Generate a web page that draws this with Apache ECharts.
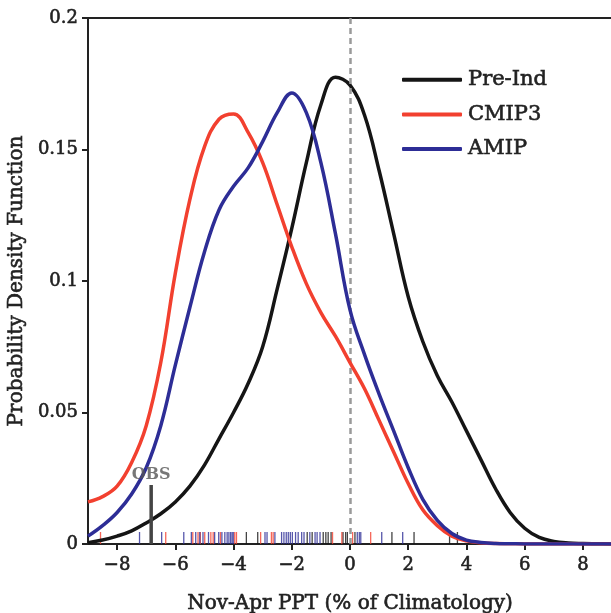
<!DOCTYPE html>
<html>
<head>
<meta charset="utf-8">
<script src="https://cdn.jsdelivr.net/npm/echarts@6/dist/echarts.min.js"></script>
<style>
html,body{margin:0;padding:0;background:#fff;}
#chart{width:611px;height:613px;}
</style>
</head>
<body>
<div id="chart"></div>
<script>
// x positions (% of climatology) shared by the three PDFs
const xValues = [-9,-8.5,-8,-7.5,-7,-6.5,-6,-5.5,-5,-4.5,-4,-3.5,-3,-2.5,-2,-1.5,-1,-0.5,0,0.5,1,1.5,2,2.5,3,3.5,4,4.5,5,5.5,6,6.5,7,7.5,8,8.5,9];
const preInd = [0.0005,0.0015,0.003,0.005,0.008,0.0115,0.016,0.022,0.030,0.040,0.050,0.061,0.075,0.097,0.120,0.145,0.167,0.1775,0.1745,0.163,0.142,0.118,0.094,0.077,0.064,0.054,0.043,0.032,0.021,0.012,0.006,0.0025,0.001,0.0004,0.0002,0.0001,0];
const cmip3 = [0.016,0.018,0.022,0.031,0.045,0.069,0.103,0.131,0.151,0.1615,0.1635,0.1565,0.145,0.129,0.113,0.099,0.088,0.079,0.069,0.059,0.047,0.035,0.023,0.013,0.007,0.003,0.0012,0.0005,0.0002,0.0001,0,0,0,0,0,0,0];
const amip = [0.003,0.007,0.012,0.019,0.029,0.045,0.068,0.090,0.111,0.127,0.136,0.143,0.153,0.164,0.1715,0.164,0.145,0.118,0.089,0.072,0.057,0.043,0.029,0.017,0.009,0.004,0.0015,0.0006,0.0002,0.0001,0,0,0,0,0,0,0];

// rug marks (individual members)
const rugPreInd = [-3.56,-3.17,-1.47,-1.30,-0.92,-0.83,-0.75,-0.65,-0.24,-0.15,-0.09,0.17,1.44,2.20,3.42,3.69];
const rugCMIP3 = [-8.57,-6.33,-5.40,-5.22,-5.14,-4.99,-4.78,-4.70,-4.45,-3.96,-3.90,-3.07,-2.70,-2.64,-0.60,-0.28,0.09,0.71];
const rugAMIP = [-7.23,-6.47,-5.71,-5.45,-5.30,-5.16,-5.05,-4.86,-4.65,-4.51,-4.40,-4.30,-4.22,-4.16,-4.10,-4.05,-4.01,-2.92,-2.85,-2.58,-2.35,-2.27,-2.19,-2.12,-2.05,-1.98,-1.87,-1.78,-1.66,-1.58,-1.38,-1.20,-1.13,-1.03,0.25,0.32,0.37,1.09,1.81];

// observation
const obsX = -6.83;
const obsHeight = 0.0224;

const xTicks = [-8,-6,-4,-2,0,2,4,6,8];
const yTickStep = 0.05;

const FONT = 'DejaVu Serif';
const TXT = '#222';
const heavy = {fontFamily:FONT, color:TXT, textBorderColor:TXT, textBorderWidth:0.6};
const C_BLACK = '#151515', C_RED = '#f2402f', C_BLUE = '#2d2d96';

const pair = arr => xValues.map((x,i)=>[x, arr[i]]);
const rug = arr => arr.map(x=>[x,0]);

const rugSeries = (data, color) => ({
  type:'scatter', data: rug(data), symbol:'rect', symbolSize:[1.3,12], symbolOffset:[0,-6],
  itemStyle:{color:color}, silent:true, z:3
});

const chart = echarts.init(document.getElementById('chart'), null, {renderer:'canvas'});
chart.setOption({
  animation:false,
  backgroundColor:'#fff',
  grid:{left:88, right:-1, top:18, bottom:69, containLabel:false, outerBoundsMode:'none',
        show:true, borderColor:'#222', borderWidth:2, backgroundColor:'transparent'},
  legend:{
    data:[{name:'Pre-Ind', icon:'roundRect'},{name:'CMIP3', icon:'roundRect'},{name:'AMIP', icon:'roundRect'}],
    orient:'vertical', left:402, top:69, padding:0, itemWidth:60, itemHeight:4, itemGap:13,
    textStyle:Object.assign({fontSize:21, lineHeight:21, padding:[0,0,0,1]}, heavy),
    selectedMode:false
  },
  xAxis:{
    type:'value', min:-9, max:9,
    axisLine:{show:true, onZero:false, lineStyle:{color:'#222', width:2}},
    axisTick:{show:true, customValues:xTicks, length:6, lineStyle:{color:'#222', width:2}},
    axisLabel:Object.assign({customValues:xTicks, formatter:v=> v<0 ? '\u2212'+Math.abs(v) : String(v), fontSize:18, margin:12}, heavy),
    splitLine:{show:false},
    name:'Nov-Apr PPT (% of Climatology)', nameLocation:'middle', nameGap:50,
    nameTextStyle:Object.assign({fontSize:20}, heavy)
  },
  yAxis:{
    type:'value', min:0, max:0.2, interval:yTickStep,
    axisLine:{show:true, onZero:false, lineStyle:{color:'#222', width:2}},
    axisTick:{show:true, length:6, lineStyle:{color:'#222', width:2}},
    axisLabel:Object.assign({formatter:v=>String(+v.toFixed(2)), fontSize:18, margin:10}, heavy),
    splitLine:{show:false},
    name:'Probability Density Function', nameLocation:'middle', nameGap:56,
    nameTextStyle:Object.assign({fontSize:20}, heavy)
  },
  series:[
    rugSeries(rugPreInd, C_BLACK),
    rugSeries(rugCMIP3, C_RED),
    rugSeries(rugAMIP, C_BLUE),
    {
      name:'Pre-Ind', type:'line', data:pair(preInd), smooth:0.4, symbol:'none',
      lineStyle:{color:C_BLACK, width:3.5}, itemStyle:{color:C_BLACK}, z:4,
      markLine:{silent:true, symbol:['none','none'], label:{show:false},
        lineStyle:{type:[6,4], color:'#9a9a9a', width:2.5},
        data:[{xAxis:0}]}
    },
    {
      name:'CMIP3', type:'line', data:pair(cmip3), smooth:0.4, symbol:'none',
      lineStyle:{color:C_RED, width:3.5}, itemStyle:{color:C_RED}, z:5
    },
    {
      name:'AMIP', type:'line', data:pair(amip), smooth:0.4, symbol:'none',
      lineStyle:{color:C_BLUE, width:3.5}, itemStyle:{color:C_BLUE}, z:6
    },
    {
      name:'OBS', type:'line', data:[[obsX,0],[obsX,obsHeight]], symbol:'none',
      lineStyle:{color:'#444', width:3.5}, z:7, silent:true
    },
    {
      type:'scatter', data:[[obsX,obsHeight]], symbolSize:0.1, silent:true, z:7,
      label:{show:true, position:'top', distance:2, formatter:'OBS', fontFamily:FONT, fontSize:16, fontWeight:'bold', color:'#555'}
    }
  ]
});
</script>
</body>
</html>
